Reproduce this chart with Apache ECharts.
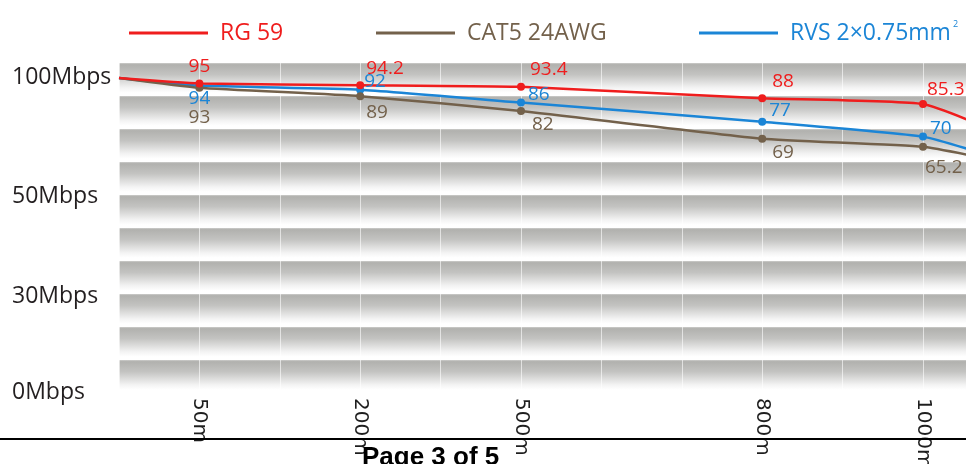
<!DOCTYPE html>
<html><head><meta charset="utf-8">
<script src="https://cdn.jsdelivr.net/npm/echarts@6/dist/echarts.min.js"></script>
<style>html,body{margin:0;padding:0;background:#fff}#c{width:966px;height:464px}</style>
</head><body><div id="c"></div>
<script>
// ---- data ----
const distanceAxis = ['', '50m', '', '200m', '', '500m', '', '', '800m', '', '1000m', ''];
const distances = ['50m', '200m', '500m', '800m', '1000m'];
const seriesNames = ['RG 59', 'CAT5 24AWG', 'RVS 2×0.75mm²'];
const rg59Values = [95, 94.2, 93.4, 88, 85.3];
const cat5Values = [93, 89, 82, 69, 65.2];
const rvsValues  = [94, 92, 86, 77, 70];
const startLevel = 97.6;                 // where all lines begin at the left edge
const endLevels = { rg59: 71, cat5: 58, rvs: 59 };   // where the lines leave the frame on the right
const speedTickLabels = ['0Mbps', '30Mbps', '50Mbps', '100Mbps'];
const footerText = 'Page 3 of 5';

// ---- styling ----
const colors = { rg59: '#ef1d1d', cat5: '#73614b', rvs: '#1b85d6' };
const speedTickLevels = [0.03, 2.94, 5.97, 9.55]; // where the tick labels sit on the band axis
// per-point label placement: [position, align, dx, dy]
const placeRg59 = [['top','center',0,0],['top','left',6,0],['top','left',9,-1],['top','left',10,0],['top','left',4,2]];
const placeRvs  = [['bottom','center',0,-3],['right','left',-3,-8],['right','left',0,-8],['right','left',0,-11],['right','left',0,-8]];
const placeCat5 = [['bottom','center',0,13],['bottom','left',6,0],['bottom','left',11,-3],['bottom','left',10,-3],['bottom','left',2,4]];

function buildData(values, endLevel, place, color) {
  const data = [{ value: [0, startLevel], symbol: 'none', label: { show: false } }];
  values.forEach((v, k) => {
    const p = place[k];
    data.push({
      value: [distanceAxis.indexOf(distances[k]), v], symbol: 'circle',
      label: { show: true, position: p[0], align: p[1], offset: [p[2], p[3]], distance: 3,
        color: color, fontSize: 19, fontFamily: 'Open Sans', formatter: () => String(v) }
    });
  });
  data.push({ value: [distanceAxis.length - 1, endLevel], symbol: 'none', label: { show: false } });
  return data;
}
function makeSeries(name, values, endLevel, place, color) {
  return {
    name: name, type: 'line', xAxisIndex: 0, yAxisIndex: 0,
    data: buildData(values, endLevel, place, color),
    smooth: 0.15, symbolSize: 8,
    lineStyle: { color: color, width: 2.5 }, itemStyle: { color: color },
    emphasis: { disabled: true }, animation: false
  };
}
function makeLegend(name, left, color) {
  return {
    left: left, top: 15, icon: 'rect', itemWidth: 79, itemHeight: 3,
    data: [{ name: name, itemStyle: { color: color } }],
    formatter: n => n === seriesNames[2] ? 'RVS 2×0.75mm{s|2}' : n,
    textStyle: { color: color, fontSize: 23, fontFamily: 'Open Sans', lineHeight: 26, padding: [0, 0, 0, 7],
      rich: { s: { fontSize: 9, color: color, fontFamily: 'Open Sans', verticalAlign: 'top', lineHeight: 26, padding: [0, 0, 8, 2] } } },
    selectedMode: false
  };
}

const bandGradient = new echarts.graphic.LinearGradient(0, 0, 0, 1, [
  { offset: 0, color: '#cdcdcb' },
  { offset: 0.05, color: '#b1b1ae' },
  { offset: 0.35, color: '#c3c3c1' },
  { offset: 0.75, color: '#f3f3f3' },
  { offset: 0.9, color: '#ffffff' },
  { offset: 1, color: '#ffffff' }
]);

const chart = echarts.init(document.getElementById('c'), null, { renderer: 'canvas' });
chart.setOption({
  animation: false,
  backgroundColor: '#ffffff',
  legend: [
    makeLegend(seriesNames[0], 124, colors.rg59),
    makeLegend(seriesNames[1], 371, colors.cat5),
    makeLegend(seriesNames[2], 694, colors.rvs)
  ],
  grid: { left: 119, right: -37.4, top: 63, bottom: 71, outerBoundsMode: 'none', containLabel: false },
  xAxis: [{
    type: 'category', data: distanceAxis, boundaryGap: false,
    axisLine: { show: false }, axisTick: { show: false },
    splitLine: { show: true, interval: 0, lineStyle: { color: 'rgba(255,255,255,0.6)', width: 1 } },
    axisLabel: { interval: 0, rotate: -90, margin: 5, fontSize: 20, fontFamily: 'DejaVu Sans', color: '#1e1e1e' }
  }],
  yAxis: [
    { type: 'value', min: -50.5, max: 104.6, show: false },
    {
      type: 'value', min: 0, max: 10, interval: 1, position: 'left',
      axisLine: { show: false }, axisTick: { show: false }, splitLine: { show: false },
      splitArea: { show: true, areaStyle: { color: [bandGradient] } },
      axisLabel: {
        customValues: speedTickLevels,
        formatter: v => { const k = speedTickLevels.indexOf(v); return k >= 0 ? speedTickLabels[k] : ''; },
        align: 'left', margin: 107, fontSize: 23, fontFamily: 'Open Sans', color: '#231f20'
      }
    }
  ],
  series: [
    makeSeries(seriesNames[2], rvsValues, endLevels.rvs, placeRvs, colors.rvs),
    makeSeries(seriesNames[1], cat5Values, endLevels.cat5, placeCat5, colors.cat5),
    makeSeries(seriesNames[0], rg59Values, endLevels.rg59, placeRg59, colors.rg59)
  ],
  graphic: [
    { type: 'line', shape: { x1: 0, y1: 439, x2: 966, y2: 439 }, style: { stroke: '#000', lineWidth: 2 }, z: 10 },
    { type: 'text', x: 362, y: 445, style: { text: footerText, font: 'bold 26px "Liberation Sans", Arial, sans-serif', fill: '#000', verticalAlign: 'top' }, z: 10 }
  ]
});
</script></body></html>
